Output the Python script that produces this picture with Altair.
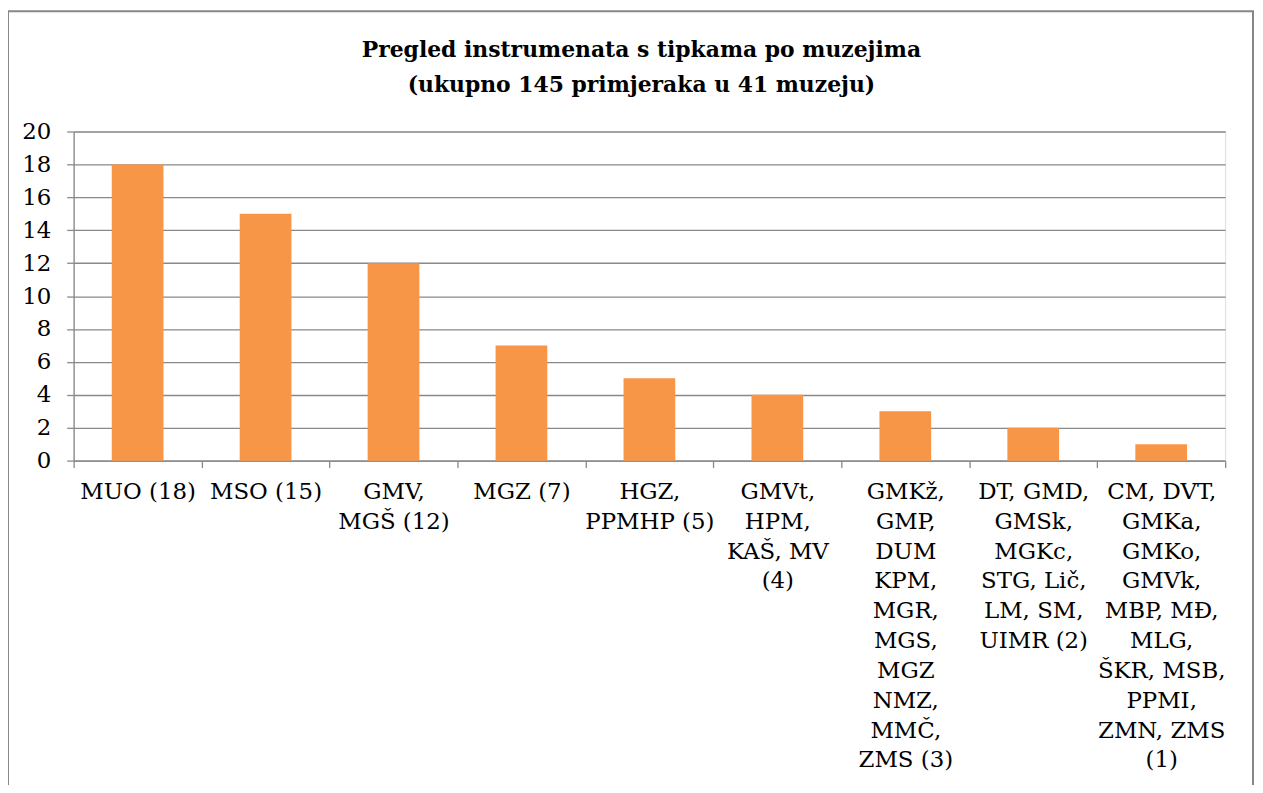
import altair as alt
import pandas as pd

labels = [
    "MUO (18)",
    "MSO (15)",
    "GMV,|MGŠ (12)",
    "MGZ (7)",
    "HGZ,|PPMHP (5)",
    "GMVt,|HPM,|KAŠ, MV|(4)",
    "GMKž,|GMP,|DUM|KPM,|MGR,|MGS,|MGZ|NMZ,|MMČ,|ZMS (3)",
    "DT, GMD,|GMSk,|MGKc,|STG, Lič,|LM, SM,|UIMR (2)",
    "CM, DVT,|GMKa,|GMKo,|GMVk,|MBP, MĐ,|MLG,|ŠKR, MSB,|PPMI,|ZMN, ZMS|(1)",
]
values = [18, 15, 12, 7, 5, 4, 3, 2, 1]
y_ticks = [0, 2, 4, 6, 8, 10, 12, 14, 16, 18, 20]
title_lines = [
    "Pregled instrumenata s tipkama po muzejima",
    "(ukupno 145 primjeraka u 41 muzeju)",
]

df = pd.DataFrame({"label": labels, "value": values})

FONT = "DejaVu Serif"
GRAY = "#898989"
BAR = "#F79646"

bars = alt.Chart(df).mark_bar(size=52, color=BAR).encode(
    x=alt.X(
        "label:N",
        sort=None,
        title=None,
        scale=alt.Scale(paddingInner=0, paddingOuter=0),
        axis=alt.Axis(
            labelAngle=0,
            labelExpr="split(datum.label, '|')",
            labelFont=FONT,
            labelFontSize=23,
            labelLineHeight=30,
            labelColor="black",
            labelPadding=13,
            labelBaseline="top",
            labelAlign="center",
            labelLimit=0,
            labelOverlap=False,
            tickSize=7,
            tickBand="extent",
            tickColor=GRAY,
            tickWidth=1.3,
            domainColor=GRAY,
            domainWidth=1.3,
            grid=False,
        ),
    ),
    y=alt.Y(
        "value:Q",
        title=None,
        scale=alt.Scale(domain=[0, 20], nice=False),
        axis=alt.Axis(
            values=y_ticks,
            labelFont=FONT,
            labelFontSize=23,
            labelColor="black",
            labelPadding=16,
            tickSize=7,
            tickColor=GRAY,
            tickWidth=1.3,
            domainColor=GRAY,
            domainWidth=1.3,
            grid=True,
            gridColor=GRAY,
            gridWidth=1.3,
        ),
    ),
)

frame = alt.Chart(pd.DataFrame({"k": [0]})).mark_rect(
    filled=False, stroke="#878787", strokeWidth=2
).encode(
    x=alt.value(-66),
    x2=alt.value(1186),
    y=alt.value(-121),
    y2=alt.value(700),
)

chart = alt.layer(frame, bars).properties(
    width=1158,
    height=331,
    autosize=alt.AutoSizeParams(type="none"),
    padding={"left": 66, "top": 122, "right": 30, "bottom": 324},
    title=alt.Title(
        title_lines,
        font=FONT,
        fontSize=22,
        fontWeight="bold",
        color="black",
        lineHeight=35,
        anchor="middle",
        baseline="bottom",
        dx=-8,
        offset=-109,
    ),
).configure_view(stroke=None).configure(background="white")

chart.save("out.html", embed_options={"renderer": "svg", "actions": False})
